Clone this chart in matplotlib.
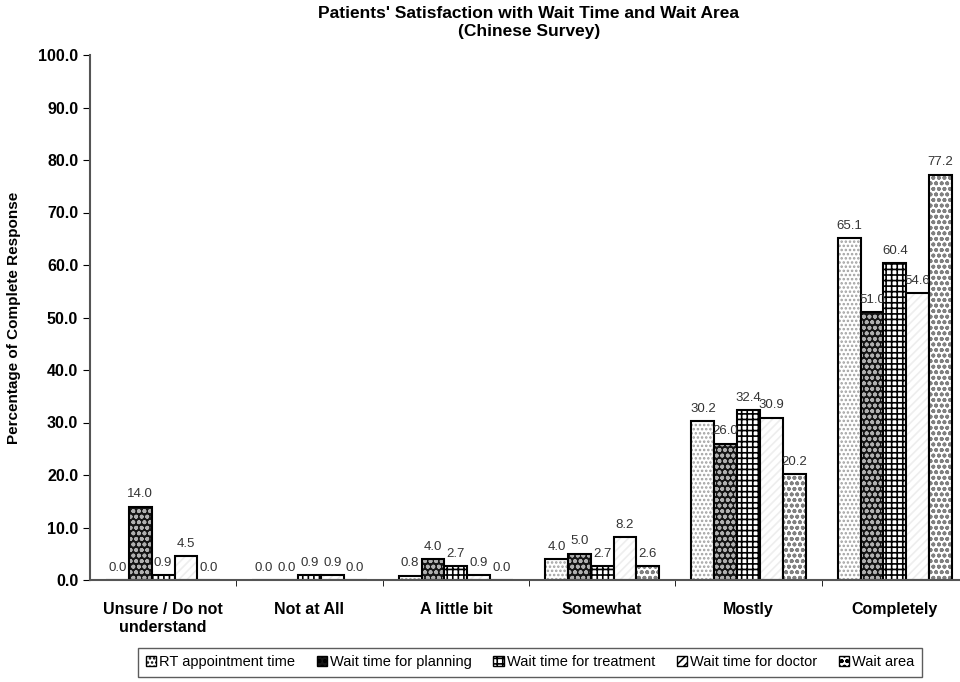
import numpy as np
import matplotlib.pyplot as plt
from matplotlib.patches import Patch

plt.rcParams['font.family'] = ['Liberation Sans', 'DejaVu Sans']
plt.rcParams['hatch.linewidth'] = 1.2

categories = ["Unsure / Do not\nunderstand", "Not at All", "A little bit",
              "Somewhat", "Mostly", "Completely"]
series_names = ["RT appointment time", "Wait time for planning",
                "Wait time for treatment", "Wait time for doctor", "Wait area"]
rt_appointment = [0.0, 0.0, 0.8, 4.0, 30.2, 65.1]
wait_planning = [14.0, 0.0, 4.0, 5.0, 26.0, 51.0]
wait_treatment = [0.9, 0.9, 2.7, 2.7, 32.4, 60.4]
wait_doctor = [4.5, 0.9, 0.9, 8.2, 30.9, 54.6]
wait_area = [0.0, 0.0, 0.0, 2.6, 20.2, 77.2]
series = [rt_appointment, wait_planning, wait_treatment, wait_doctor, wait_area]

# fill colour, hatch pattern, hatch colour for each series
styles = [
    ("white", "....", "#a0a0a0"),
    ("#151515", "ooo", "#b0b0b0"),
    ("white", "+++", "#000000"),
    ("white", "////", "#eeeeee"),
    ("white", "ooo", "#808080"),
]

fig = plt.figure(figsize=(9.6, 6.82), dpi=100)
ax = fig.add_axes([90 / 960, 1 - 580 / 682, 878 / 960, 525 / 682])

x = np.arange(len(categories))
width = 0.156
offsets = (np.arange(len(series)) - 2) * width

for vals, off, (face, hatch, hcol) in zip(series, offsets, styles):
    ax.bar(x + off, vals, width, color=face, hatch=hatch, edgecolor=hcol, linewidth=0)
    ax.bar(x + off, vals, width, fill=False, edgecolor="black", linewidth=1.5)
    for xi, v in zip(x + off, vals):
        ax.text(xi, v + 1.2, f"{v:.1f}", ha="center", va="bottom",
                fontsize=9.5, color="#333333")

ax.set_xlim(-0.5, 5.5)
ax.set_ylim(0, 100)
ax.set_yticks(np.arange(0, 101, 10))
ax.set_yticklabels([f"{v:.1f}" for v in np.arange(0, 101, 10)],
                   fontsize=11.5, fontweight="bold")
ax.set_xticks(x)
ax.set_xticklabels(categories, fontsize=11.5, fontweight="bold")
ax.tick_params(axis="x", which="major", length=0, pad=16)
ax.set_xticks(np.arange(0.5, 5.5, 1), minor=True)
ax.tick_params(axis="x", which="minor", length=4, direction="out")
ax.tick_params(axis="y", length=5, direction="out")

for side in ["top", "right"]:
    ax.spines[side].set_visible(False)
ax.spines["left"].set_color("#555555")
ax.spines["bottom"].set_color("#555555")
ax.spines["left"].set_linewidth(1.5)
ax.spines["bottom"].set_linewidth(1.5)

ax.set_ylabel("Percentage of Complete Response", fontsize=11, fontweight="bold",
              labelpad=12)
ax.set_title("Patients' Satisfaction with Wait Time and Wait Area\n(Chinese Survey)",
             fontsize=12.5, fontweight="bold", pad=14)

handles = [Patch(facecolor=face, hatch=hatch, edgecolor="black", linewidth=1.0)
           for face, hatch, hcol in styles]
leg = fig.legend(handles, series_names, loc="center", bbox_to_anchor=(0.552, 0.029),
                 ncol=5, fontsize=10.5, frameon=True, fancybox=False,
                 handlelength=0.7, handleheight=0.7, handletextpad=0.2,
                 columnspacing=1.5, borderpad=0.5)
leg.get_frame().set_edgecolor("#333333")
leg.get_frame().set_linewidth(1.0)

fig.savefig("out.png", dpi=100)
